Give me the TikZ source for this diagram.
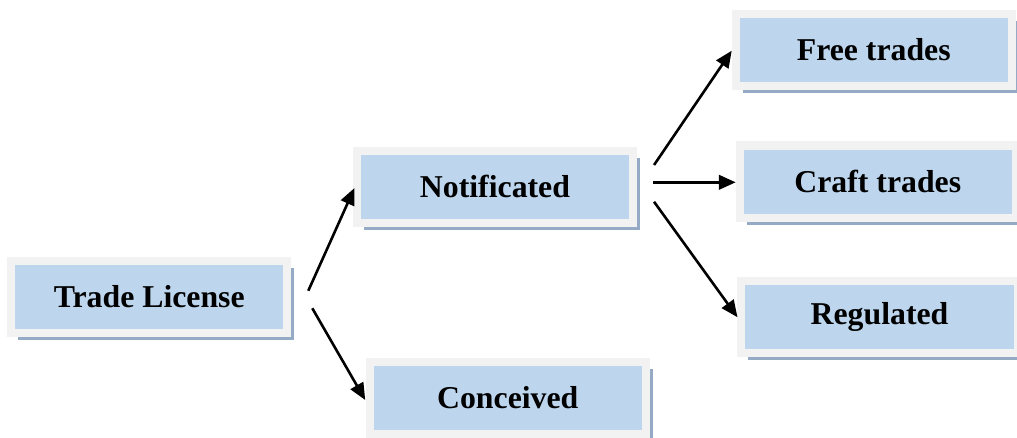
\documentclass[tikz,border=0pt]{standalone}
\usepackage{fontspec}
\setmainfont{Liberation Serif}
\usepackage{xcolor}
\definecolor{boxblue}{RGB}{189,214,238}
\definecolor{boxgray}{RGB}{242,242,242}
\definecolor{shadowblue}{RGB}{149,170,196}
\usetikzlibrary{shadows,arrows.meta}

\begin{document}
\begin{tikzpicture}[x=0.025cm, y=-0.025cm,
    box/.style={rectangle, draw=boxgray, fill=boxblue, line width=0.2cm, inner sep=0pt,
        minimum width=6.9cm, minimum height=1.8cm, font=\fontsize{22.6}{27}\selectfont\bfseries,
        drop shadow={shadow xshift=0.175cm, shadow yshift=-0.175cm, fill=shadowblue, opacity=1}},
    arr/.style={-{Triangle[length=0.42cm, width=0.36cm]}, line width=0.065cm}]
    \useasboundingbox (0,0) rectangle (1017,437);

    % License types
    \node[box] (tl) at (149.25,296.75) {Trade License};
    \node[box] (noti) at (495,186.75) {Notificated};
    \node[box] (conc) at (507.75,397.75) {Conceived};
    \node[box] (free) at (873.75,50) {Free trades};
    \node[box] (craft) at (877.75,181.5) {Craft trades};
    \node[box] (reg) at (879.5,317.25) {Regulated};

    % Arrows
    \draw[arr] ([shift={(17,-6)}]tl.east) -- ([shift={(1.5,1.25)}]noti.west);
    \draw[arr] ([shift={(21,11.5)}]tl.east) -- ([shift={(-0.5,2.25)}]conc.west);
    \draw[arr] ([shift={(17,-21.75)}]noti.east) -- ([shift={(0,0.7)}]free.west);
    \draw[arr] ([shift={(16,-4.45)}]noti.east) -- ([shift={(0,0.8)}]craft.west);
    \draw[arr] ([shift={(17,15)}]noti.east) -- (reg.west);
\end{tikzpicture}
\end{document}
